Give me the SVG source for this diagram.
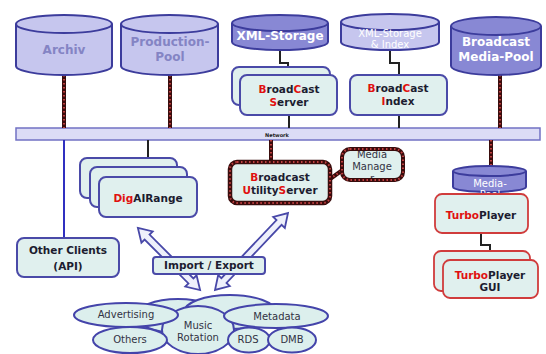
<svg xmlns="http://www.w3.org/2000/svg" width="546" height="354" viewBox="0 0 546 354">
<defs>
<style>
.cyl{fill:#c6c6ee;stroke:#3c3c9c;stroke-width:2}
.cylD{fill:#8888d4;stroke:#3c3c9c;stroke-width:2}
.box{fill:#e0f0ee;stroke:#4a4aa8;stroke-width:2}
.rbox{fill:#e0f0ee;stroke:#d03c3c;stroke-width:1.8}
.ropeA{fill:none;stroke:#3a0c0c;stroke-width:4}
.ropeB{fill:none;stroke:#c04040;stroke-width:2;stroke-dasharray:1.5 2.5}
.wire{fill:none;stroke:#222;stroke-width:2}
.ell{fill:#dcefed;stroke:#4444aa;stroke-width:2}
.arr{fill:#eef0fb;stroke:#4848a8;stroke-width:1.8;stroke-linejoin:miter}
.t{font-family:"DejaVu Sans",Verdana,sans-serif;font-weight:bold;font-size:10.5px;fill:#1c1c30;text-anchor:middle}
.r{fill:#e01010}
.cl{font-family:"DejaVu Sans",Verdana,sans-serif;font-weight:bold;font-size:12px;fill:#8484c4;text-anchor:middle}
.cw{font-family:"DejaVu Sans",Verdana,sans-serif;font-weight:bold;font-size:12px;fill:#ffffff;text-anchor:middle}
.cwl{font-family:"DejaVu Sans",Verdana,sans-serif;font-size:10px;fill:#ffffff;text-anchor:middle}
.e{font-family:"DejaVu Sans",Verdana,sans-serif;font-size:10px;fill:#333344;text-anchor:middle}
</style>
<clipPath id="mmclip"><rect x="344" y="151" width="57" height="27" rx="6"/></clipPath>
</defs>
<rect width="546" height="354" fill="#ffffff"/>

<!-- network bar -->
<g id="network">
<rect x="16" y="128" width="524" height="12" fill="#dcdcf6" stroke="#7272c4" stroke-width="1.5"/>
<text x="277" y="137" font-family="DejaVu Sans,sans-serif" font-weight="bold" font-size="5px" fill="#222" text-anchor="middle">Network</text>
</g>

<!-- connectors -->
<g id="connectors">
<path class="ropeA" d="M64 75V128M170 75V128M500 75V128M271 140V162M491 140V166M330 179L344 169"/>
<path class="ropeB" d="M64 75V128M170 75V128M500 75V128M271 140V162M491 140V166M330 179L344 169"/>
<path class="wire" d="M280 50V63H288V75M390 50V63H399V75M289 115V128M399 115V128M148 140V158M481 233V245H490V260"/>
<path d="M64 140V238" fill="none" stroke="#3030c0" stroke-width="2"/>
</g>

<!-- cylinders -->
<g id="archiv">
<path class="cyl" d="M16 24V66A48 9 0 0 0 112 66V24"/>
<ellipse class="cyl" cx="64" cy="24" rx="48" ry="9"/>
<text class="cl" x="64" y="54">Archiv</text>
</g>
<g id="production-pool">
<path class="cyl" d="M121 24V66A48.5 9 0 0 0 218 66V24"/>
<ellipse class="cyl" cx="169.5" cy="24" rx="48.5" ry="9"/>
<text class="cl" x="170" y="46">Production-</text>
<text class="cl" x="170" y="61">Pool</text>
</g>
<g id="xml-storage">
<path class="cylD" d="M232 23V42A48 8 0 0 0 328 42V23"/>
<ellipse class="cylD" cx="280" cy="23" rx="48" ry="8"/>
<text class="cw" x="280" y="40" font-size="11px">XML-Storage</text>
</g>
<g id="xml-storage-index">
<path class="cyl" d="M341 22V42A49 8 0 0 0 439 42V22"/>
<ellipse class="cyl" cx="390" cy="22" rx="49" ry="8"/>
<text class="cwl" x="390" y="37">XML-Storage</text>
<text class="cwl" x="390" y="48">&amp; Index</text>
</g>
<g id="broadcast-media-pool">
<path class="cylD" d="M451 26V66A45 9 0 0 0 541 66V26"/>
<ellipse class="cylD" cx="496" cy="26" rx="45" ry="9"/>
<text class="cw" x="496" y="46">Broadcast</text>
<text class="cw" x="496" y="61">Media-Pool</text>
</g>

<!-- servers -->
<g id="broadcast-server">
<rect class="box" x="232" y="67" width="98" height="38" rx="7"/>
<rect class="box" x="240" y="75" width="97" height="40" rx="7"/>
<text class="t" x="289" y="93"><tspan class="r">B</tspan>road<tspan class="r">C</tspan>ast</text>
<text class="t" x="289" y="106"><tspan class="r">S</tspan>erver</text>
</g>
<g id="broadcast-index">
<rect class="box" x="350" y="75" width="97" height="40" rx="7"/>
<text class="t" x="398" y="92"><tspan class="r">B</tspan>road<tspan class="r">C</tspan>ast</text>
<text class="t" x="398" y="105"><tspan class="r">I</tspan>ndex</text>
</g>

<g id="digairange">
<rect class="box" x="80" y="158" width="97" height="40" rx="7"/>
<rect class="box" x="90" y="167" width="97" height="40" rx="7"/>
<rect class="box" x="99" y="177" width="98" height="40" rx="7"/>
<text class="t" x="148" y="202"><tspan class="r">Dig</tspan>AIRange</text>
</g>

<g id="utility-server">
<rect x="230" y="162" width="100" height="41" rx="7" fill="#e0f0ee" stroke="#3a0c0c" stroke-width="4.5"/>
<rect x="230" y="162" width="100" height="41" rx="7" fill="none" stroke="#c04040" stroke-width="2" stroke-dasharray="1.5 2.5"/>
<text class="t" x="280" y="181"><tspan class="r">B</tspan>roadcast</text>
<text class="t" x="280" y="194"><tspan class="r">U</tspan>tility<tspan class="r">S</tspan>erver</text>
</g>

<g id="media-manager">
<rect x="342" y="149" width="61" height="31" rx="8" fill="#e0f0ee" stroke="#3a0c0c" stroke-width="4"/>
<rect x="342" y="149" width="61" height="31" rx="8" fill="none" stroke="#c04040" stroke-width="2" stroke-dasharray="1.5 2.5"/>
<g clip-path="url(#mmclip)">
<text class="e" x="372" y="158" fill="#444">Media</text>
<text class="e" x="372" y="170">Manage</text>
<text class="e" x="372" y="182">r</text>
</g>
</g>

<g id="other-clients">
<rect class="box" x="17" y="238" width="102" height="39" rx="7"/>
<text class="t" x="68" y="254" font-size="11px">Other Clients</text>
<text class="t" x="68" y="270" font-size="11px">(API)</text>
</g>

<g id="media-pool">
<path class="cylD" d="M453 171V187A36.5 5 0 0 0 526 187V171"/>
<ellipse class="cylD" cx="489.5" cy="171" rx="36.5" ry="5"/>
<text class="cwl" x="490" y="187">Media-</text>
<text class="cwl" x="490" y="198">Pool</text>
</g>

<g id="turboplayer">
<rect class="rbox" x="435" y="194" width="93" height="39" rx="7"/>
<text class="t" x="481" y="219" font-size="11px"><tspan class="r">Turbo</tspan>Player</text>
</g>

<g id="turboplayer-gui">
<rect class="rbox" x="434" y="251" width="96" height="40" rx="7"/>
<rect class="rbox" x="443" y="260" width="95" height="38" rx="7"/>
<text class="t" x="490" y="279" font-size="11px"><tspan class="r">Turbo</tspan>Player</text>
<text class="t" x="490" y="291" font-size="11px">GUI</text>
</g>

<!-- data cluster -->
<g id="data-cluster">
<ellipse class="ell" cx="178" cy="316" rx="42" ry="17"/>
<ellipse class="ell" cx="230" cy="312" rx="46" ry="17"/>
<ellipse class="ell" cx="198" cy="330" rx="36" ry="24"/>
<ellipse class="ell" cx="126" cy="315" rx="52" ry="12"/>
<ellipse class="ell" cx="130" cy="340" rx="37" ry="13"/>
<ellipse class="ell" cx="276" cy="316" rx="52" ry="12"/>
<ellipse class="ell" cx="249" cy="340" rx="21" ry="12.5"/>
<ellipse class="ell" cx="292" cy="340" rx="24" ry="12.5"/>
<text class="e" x="126" y="318">Advertising</text>
<text class="e" x="130" y="343">Others</text>
<text class="e" x="198" y="329">Music</text>
<text class="e" x="198" y="341">Rotation</text>
<text class="e" x="277" y="320">Metadata</text>
<text class="e" x="248" y="343">RDS</text>
<text class="e" x="292" y="343">DMB</text>
</g>

<!-- import/export arrows -->
<g id="import-export">
<polygon class="arr" transform="translate(169 259) rotate(45)" points="-44,0 -31,-8 -31,-3.5 31,-3.5 31,-8 44,0 31,8 31,3.5 -31,3.5 -31,8"/>
<polygon class="arr" transform="translate(251.5 251.5) rotate(133.5)" points="-53,0 -40,-8 -40,-3.5 40,-3.5 40,-8 53,0 40,8 40,3.5 -40,3.5 -40,8"/>
<rect class="box" x="153" y="257" width="112" height="17" rx="3" fill="#eef0fb"/>
<text class="t" x="209" y="269" font-size="11px">Import / Export</text>
</g>
</svg>
